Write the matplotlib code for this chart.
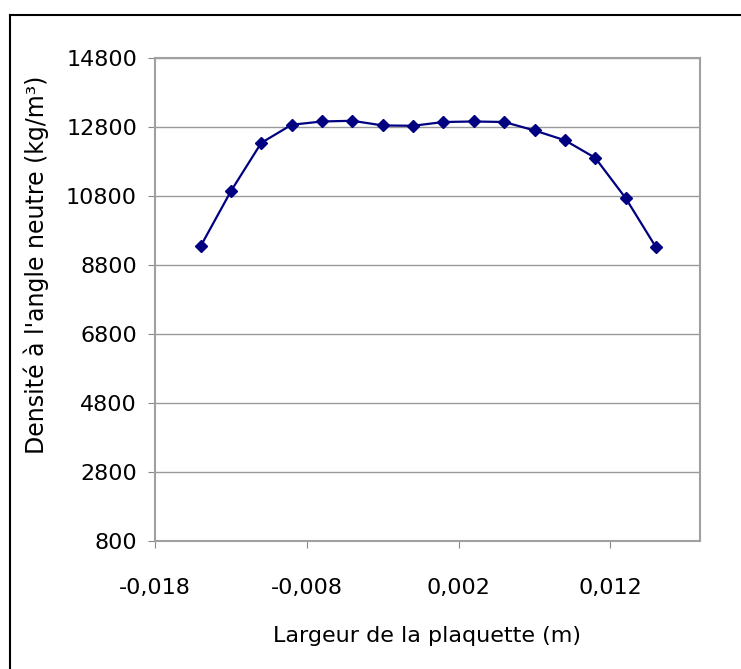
import matplotlib
matplotlib.use("Agg")
import matplotlib.pyplot as plt
from matplotlib.lines import Line2D
from matplotlib.ticker import FuncFormatter

x_vals = [-0.015, -0.013, -0.011, -0.009, -0.007, -0.005, -0.003, -0.001,
          0.001, 0.003, 0.005, 0.007, 0.009, 0.011, 0.013, 0.015]
densite = [9340, 10940, 12340, 12865, 12960, 12980, 12845, 12835,
           12945, 12960, 12945, 12700, 12415, 11905, 10740, 9315]
x_ticks = [-0.018, -0.008, 0.002, 0.012]
y_ticks = [800, 2800, 4800, 6800, 8800, 10800, 12800, 14800]

plt.rcParams['font.family'] = ['DejaVu Sans']

W, H = 741, 669
fig = plt.figure(figsize=(W / 100, H / 100), dpi=100)
ax = fig.add_axes([155 / W, 1 - 541 / H, (700 - 155) / W, (541 - 58) / H])

ax.plot(x_vals, densite, color='#000080', lw=1.6, marker='D', ms=6,
        mfc='#000080', mec='#000080', zorder=3)

ax.set_xlim(-0.018, 0.0179)
ax.set_ylim(800, 14800)
ax.set_xticks(x_ticks)
ax.set_yticks(y_ticks)
ax.xaxis.set_major_formatter(FuncFormatter(lambda v, p: f"{v:.3f}".replace('.', ',')))
ax.yaxis.set_major_formatter(FuncFormatter(lambda v, p: f"{int(round(v))}"))
ax.tick_params(axis='both', labelsize=16, length=5, color='#888888', direction='out',
               labelcolor='black')
ax.tick_params(axis='y', pad=8)
ax.tick_params(axis='x', pad=22)
ax.grid(axis='y', color='#999999', lw=1)
ax.set_axisbelow(True)
for s in ax.spines.values():
    s.set_color('#a0a0a0')
    s.set_linewidth(1.5)

ax.set_xlabel("Largeur de la plaquette (m)", fontsize=16, labelpad=20)
ax.set_ylabel("Densité à l'angle neutre (kg/m³)", fontsize=17, labelpad=12, y=0.571)

# outer frame
fig.add_artist(Line2D([10 / W, 10 / W], [0, 1 - 15 / H], transform=fig.transFigure,
                      color='black', lw=1.5))
fig.add_artist(Line2D([10 / W, 1], [1 - 15 / H, 1 - 15 / H], transform=fig.transFigure,
                      color='black', lw=1.5))

fig.savefig("out.png", dpi=100)
